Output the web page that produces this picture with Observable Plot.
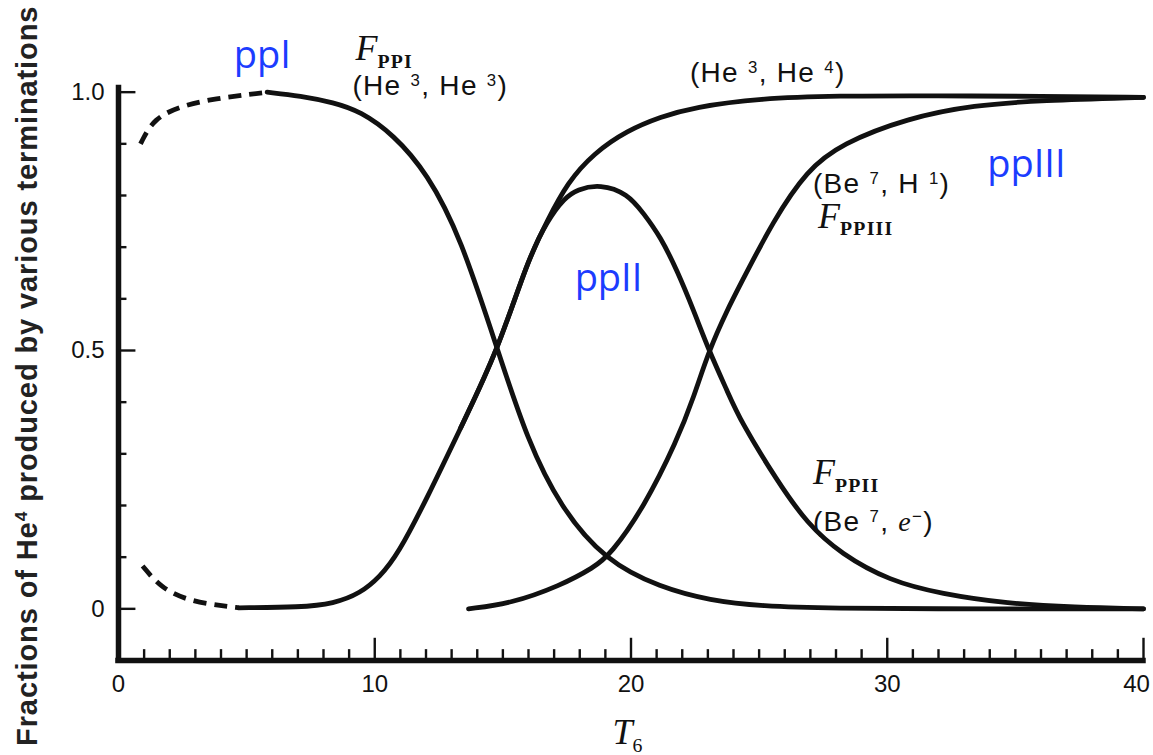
<!DOCTYPE html>
<html>
<head>
<meta charset="utf-8">
<script src="https://cdn.jsdelivr.net/npm/d3@7"></script>
<script src="https://cdn.jsdelivr.net/npm/@observablehq/plot@0.6"></script>
<style>
  html, body { margin: 0; padding: 0; background: #fff; }
  #chart { width: 1153px; height: 755px; }
</style>
</head>
<body>
<div id="chart"></div>
<script>
// Fractions of He4 produced by each pp-chain termination versus T6.
// Each curve is sampled at (T6, fraction) points.

// ppI, (He3, He3): uncertain low-temperature part (dashed) and main curve
const ppIDashT = [0.86, 1.37, 2.54, 3.86, 5.0, 5.8];
const ppIDashF = [0.90, 0.95, 0.975, 0.988, 0.995, 1.0];
const ppIT = [5.8, 7.1, 8.4, 9.44, 10.73, 12.05, 13.35, 14.8, 15.96, 17.25, 19.0, 21.15, 23.1, 25.05, 28, 32, 36, 40];
const ppIF = [1.0, 0.993, 0.98, 0.963, 0.918, 0.843, 0.72, 0.5, 0.326, 0.196, 0.093, 0.041, 0.016, 0.005, 0.001, 0, 0, 0];

// (He3, He4) branch: sum of ppII and ppIII
const he34DashT = [0.94, 1.64, 2.7, 3.98, 4.7];
const he34DashF = [0.083, 0.041, 0.016, 0.006, 0.002];
const he34T = [4.7, 7.1, 8.4, 9.44, 10.2, 10.9, 12.05, 13.35, 14.8, 15.96, 16.74, 17.52, 18.55, 19.86, 21.15, 22.45, 25.05, 28, 32, 36, 40];
const he34F = [0.002, 0.003, 0.01, 0.03, 0.062, 0.105, 0.215, 0.35, 0.5, 0.674, 0.752, 0.825, 0.882, 0.926, 0.952, 0.971, 0.988, 0.993, 0.993, 0.992, 0.99];

// ppII, (Be7, e-): runs along the (He3, He4) curve until it branches off
const ppIIT = [13.35, 14.8, 15.96, 16.74, 17.4, 17.9, 18.8, 19.86, 20.5, 21.15, 21.8, 22.45, 23.04, 23.77, 24.27, 25.7, 26.87, 28.2, 30.1, 32.1, 34.7, 37.3, 40];
const ppIIF = [0.35, 0.5, 0.674, 0.752, 0.795, 0.812, 0.822, 0.804, 0.765, 0.72, 0.655, 0.577, 0.5, 0.42, 0.364, 0.248, 0.165, 0.106, 0.054, 0.029, 0.01, 0.003, 0];

// ppIII, (Be7, H1)
const ppIIIT = [13.66, 15.3, 17.25, 18.55, 19.2, 20.5, 21.8, 22.45, 23.04, 23.77, 24.27, 25.56, 26.87, 28.2, 30.8, 33.4, 36, 40];
const ppIIIF = [0, 0.01, 0.045, 0.08, 0.105, 0.196, 0.326, 0.41, 0.5, 0.58, 0.628, 0.752, 0.849, 0.9, 0.95, 0.975, 0.984, 0.99];

// Axis ticks and labels
const xTickValues = [0, 10, 20, 30, 40];
const xTickLabels = ["0", "10", "20", "30", "40"];
const xMinorTicks = d3.range(1, 40).filter(v => v % 10 !== 0);
const yTickValues = [0, 0.5, 1.0];
const yTickLabels = ["0", "0.5", "1.0"];
const yMinorTicks = [0.1, 0.2, 0.3, 0.4, 0.6, 0.7, 0.8, 0.9];

const yTitle = "Fractions of He^{4} produced by various terminations";
const xTitle = "T_{6}";

const rows = (T, F) => T.map((t, i) => ({t, f: F[i]}));

const ink = "#111";
const blue = "#1c3cff";
const solid = {x: "t", y: "f", stroke: ink, strokeWidth: 4.8, curve: "basis", strokeLinecap: "round"};
const dashed = {...solid, strokeDasharray: "13 8", strokeLinecap: "butt"};

// in-chart labels (markup: ^{} superscript, _{} subscript, ~{} italic)
const sansLabels = [
  {t: 9.13, f: 0.994, s: "(He ^{3}, He ^{3})"},
  {t: 22.3, f: 1.019, s: "(He ^{3}, He ^{4})"},
  {t: 27.1, f: 0.804, s: "(Be ^{7}, H ^{1})"},
  {t: 27.1, f: 0.151, s: "(Be ^{7}, ~{e}^{\u2212})"}
];
const fLabels = [
  {t: 9.25, f: 1.062, s: "F_{PPI}"},
  {t: 27.3, f: 0.738, s: "F_{PPIII}"},
  {t: 27.1, f: 0.242, s: "F_{PPII}"}
];
const chainLabels = [
  {t: 4.5, f: 1.047, s: "ppI"},
  {t: 17.8, f: 0.616, s: "ppII"},
  {t: 33.9, f: 0.835, s: "ppIII"}
];

const majorX = 0.043, minorX = 0.021;   // tick lengths along y
const majorY = 0.68, minorY = 0.33;     // tick lengths along x

const chart = Plot.plot({
  width: 1153,
  height: 755,
  marginLeft: 118,
  marginRight: 10,
  marginTop: 40,
  marginBottom: 95,
  x: {domain: [0, 40], axis: null},
  y: {domain: [-0.1, 1.1], axis: null},
  style: {fontFamily: "Liberation Sans", background: "#fff", color: ink},
  marks: [
    // curves
    Plot.line(rows(ppIDashT, ppIDashF), dashed),
    Plot.line(rows(he34DashT, he34DashF), dashed),
    Plot.line(rows(ppIT, ppIF), solid),
    Plot.line(rows(he34T, he34F), solid),
    Plot.line(rows(ppIIT, ppIIF), solid),
    Plot.line(rows(ppIIIT, ppIIIF), solid),

    // axes
    Plot.ruleX([0], {y1: -0.1, y2: 1.008, stroke: ink, strokeWidth: 5.5, strokeLinecap: "square"}),
    Plot.ruleY([-0.1], {x1: 0, x2: 40, stroke: ink, strokeWidth: 5.5, strokeLinecap: "square"}),

    // inward ticks
    Plot.ruleX(xTickValues.slice(1), {x: d => d, y1: -0.1, y2: -0.1 + majorX, stroke: ink, strokeWidth: 2.4}),
    Plot.ruleX(xMinorTicks, {x: d => d, y1: -0.1, y2: -0.1 + minorX, stroke: ink, strokeWidth: 2.4}),
    Plot.ruleY(yTickValues, {y: d => d, x1: 0, x2: majorY, stroke: ink, strokeWidth: 2.4}),
    Plot.ruleY(yMinorTicks, {y: d => d, x1: 0, x2: minorY, stroke: ink, strokeWidth: 2.4}),

    // tick labels (the last one is pulled in from the page edge)
    Plot.text(xTickValues.slice(0, -1), {x: d => d, y: -0.1, dy: 24, text: (d, i) => xTickLabels[i], fontSize: 24, fill: ink}),
    Plot.text(xTickValues.slice(-1), {x: d => d, y: -0.1, dy: 24, dx: -7, text: () => xTickLabels[xTickLabels.length - 1], fontSize: 24, fill: ink}),
    Plot.text(yTickValues, {x: 0, y: d => d, dx: -14, textAnchor: "end", text: (d, i) => yTickLabels[i], fontSize: 24, fill: ink}),

    // axis titles
    Plot.text([yTitle], {x: -3.55, y: 0.451, text: d => d, rotate: -90, fontSize: 29, fontWeight: "bold", fill: "#222"}),
    Plot.text([xTitle], {x: 19.28, y: -0.262, text: d => d, textAnchor: "start", lineAnchor: "bottom",
      fontFamily: "Liberation Serif", fontStyle: "italic", fontSize: 36, fill: ink}),

    // curve labels
    Plot.text(sansLabels, {x: "t", y: "f", text: "s", textAnchor: "start", lineAnchor: "bottom", fontSize: 28, fill: ink}),
    Plot.text(fLabels, {x: "t", y: "f", text: "s", textAnchor: "start", lineAnchor: "bottom",
      fontFamily: "Liberation Serif", fontStyle: "italic", fontSize: 36, fill: ink}),
    Plot.text(chainLabels, {x: "t", y: "f", text: "s", textAnchor: "start", lineAnchor: "bottom",
      fontFamily: "Open Sans", fontSize: 38, fill: blue})
  ]
});

document.getElementById("chart").appendChild(chart);

// turn the ^{}, _{} and ~{} markup into tspans
d3.select(chart).selectAll("text").each(function () {
  const s = this.textContent;
  if (!/[\^_~]\{/.test(s)) return;
  const base = parseFloat(getComputedStyle(this).fontSize);
  const serif = /Serif/.test(getComputedStyle(this).fontFamily);
  this.textContent = "";
  if (!serif && base > 26) d3.select(this).attr("letter-spacing", base > 28 ? 0.9 : 1.3);
  const parts = s.split(/([\^_~]\{[^}]*\})/).filter(p => p);
  let shift = 0;
  for (const p of parts) {
    const m = p.match(/^([\^_~])\{([^}]*)\}$/);
    const ts = d3.select(this).append("tspan");
    let target = 0;
    if (m) {
      ts.text(m[2]);
      if (m[1] === "^") {
        ts.attr("font-size", base * 0.6).attr("font-style", "normal");
        target = -base * 0.33;
      } else if (m[1] === "_") {
        ts.attr("font-size", base * 0.55).attr("font-style", "normal");
        if (m[2].length > 1) ts.attr("font-weight", "bold").attr("letter-spacing", 1.2);
        target = base * 0.22;
      } else {
        ts.attr("font-style", "italic").attr("font-family", "Liberation Serif");
      }
    } else {
      ts.text(p);
    }
    ts.attr("dy", target - shift);
    shift = target;
  }
});
</script>
</body>
</html>
